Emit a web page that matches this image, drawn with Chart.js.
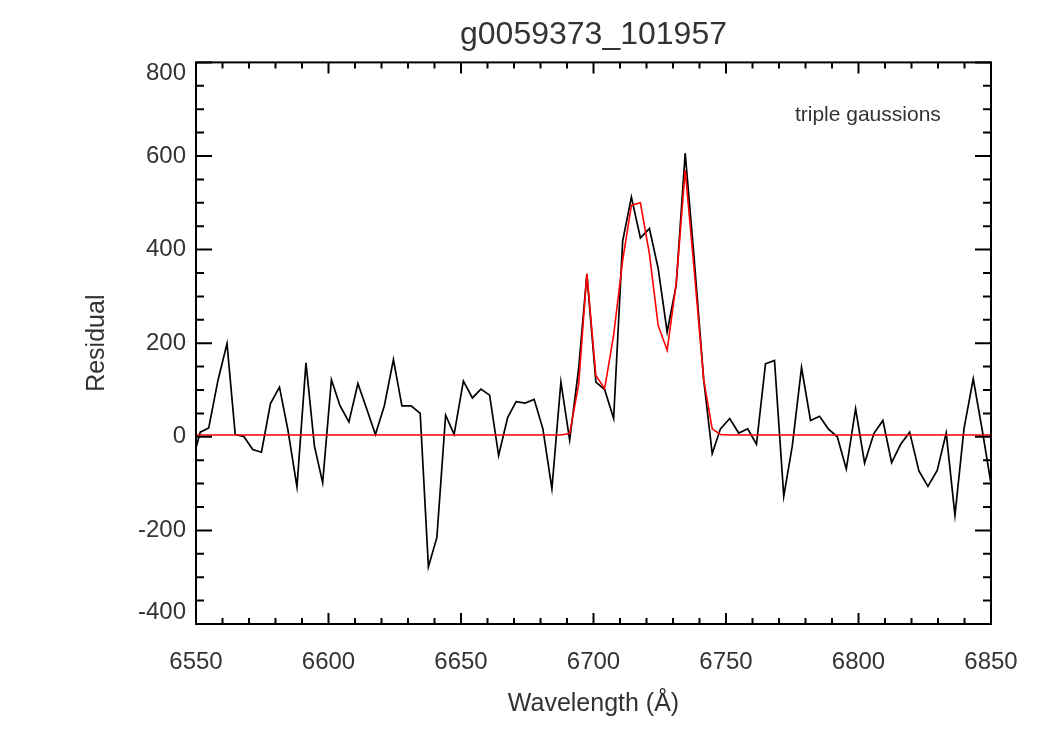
<!DOCTYPE html>
<html>
<head>
<meta charset="utf-8">
<script src="https://cdn.jsdelivr.net/npm/chart.js@4"></script>
<style>
  html, body { margin: 0; padding: 0; background: #fff; }
  canvas { display: block; }
</style>
</head>
<body>
<canvas id="grafica" width="1050" height="750"></canvas>
<script>
// Wavelength samples (Å)
const wavelengths = [
  6548.3, 6551.6, 6554.8, 6558.3, 6561.7, 6564.8, 6568.0, 6571.4, 6574.7, 6578.1,
  6581.5, 6584.7, 6588.1, 6591.5, 6594.7, 6597.8, 6601.1, 6604.3, 6607.7, 6611.1,
  6614.4, 6617.7, 6621.1, 6624.5, 6627.7, 6631.2, 6634.6, 6637.7, 6640.9, 6644.2,
  6647.4, 6650.9, 6654.3, 6657.5, 6660.8, 6664.2, 6667.6, 6670.8, 6674.2, 6677.6,
  6680.9, 6684.3, 6687.7, 6691.0, 6694.4, 6697.5, 6700.9, 6704.2, 6707.6, 6711.0,
  6714.3, 6717.7, 6721.1, 6724.4, 6727.8, 6731.2, 6734.6, 6738.0, 6741.6, 6744.8,
  6747.9, 6751.4, 6754.8, 6758.2, 6761.5, 6764.9, 6768.3, 6771.8, 6775.0, 6778.5,
  6781.9, 6785.3, 6788.6, 6792.0, 6795.4, 6798.9, 6802.3, 6805.8, 6809.2, 6812.5,
  6815.9, 6819.3, 6822.8, 6826.2, 6829.7, 6833.1, 6836.4, 6839.8, 6843.3, 6846.7,
  6850.0
];

// Observed residual (black)
const residual = [
  -60, 10, 19, 121, 199, 5, 1, -27, -33, 71,
  106, 14, -107, 158, -20, -98, 122, 67, 32, 114,
  60, 5, 67, 165, 66, 66, 50, -278, -215, 46,
  5, 119, 83, 102, 89, -40, 41, 75, 72, 80,
  17, -111, 117, -7, 146, 347, 117, 101, 39, 418,
  512, 425, 445, 360, 224, 324, 606, 380, 121, -36,
  17, 39, 8, 17, -16, 156, 163, -127, -20, 148,
  35, 44, 17, 0, -69, 60, -56, 7, 35, -55,
  -16, 10, -73, -106, -72, 8, -168, 17, 124, 14,
  -100
];

// Triple gaussian fit (red)
const fit = [
  4, 4, 4, 4, 4, 4, 4, 4, 4, 4,
  4, 4, 4, 4, 4, 4, 4, 4, 4, 4,
  4, 4, 4, 4, 4, 4, 4, 4, 4, 4,
  4, 4, 4, 4, 4, 4, 4, 4, 4, 4,
  4, 4, 4, 7, 112, 349, 131, 103, 217, 377,
  495, 500, 391, 238, 185, 327, 570, 356, 121, 17,
  5, 4, 4, 4, 4, 4, 4, 4, 4, 4,
  4, 4, 4, 4, 4, 4, 4, 4, 4, 4,
  4, 4, 4, 4, 4, 4, 4, 4, 4, 4,
  4
];

const xTicks = [6550, 6600, 6650, 6700, 6750, 6800, 6850];
const yTicks = [-400, -200, 0, 200, 400, 600, 800];

const fontFamily = '"Liberation Sans", Arial, Helvetica, sans-serif';
const textColor = '#333';

// Inward ticks on all four sides plus the frame, IDL style
const marcoIDL = {
  id: 'marcoIDL',
  afterDraw(chart) {
    const { ctx, chartArea: a, scales: { x, y } } = chart;
    ctx.save();
    ctx.strokeStyle = '#000';
    ctx.lineWidth = 2;
    ctx.strokeRect(a.left, a.top, a.right - a.left, a.bottom - a.top);

    // x ticks: minor every 10, major on labels
    for (let v = xTicks[0]; v <= xTicks[xTicks.length - 1]; v += 10) {
      const px = x.getPixelForValue(v);
      const len = xTicks.includes(v) ? 11 : 6;
      ctx.beginPath();
      ctx.moveTo(px, a.bottom); ctx.lineTo(px, a.bottom - len);
      ctx.moveTo(px, a.top); ctx.lineTo(px, a.top + len);
      ctx.stroke();
    }
    // y ticks: minor every 50, major on labels
    for (let v = yTicks[0]; v <= yTicks[yTicks.length - 1]; v += 50) {
      const py = y.getPixelForValue(v);
      const len = yTicks.includes(v) ? 16 : 8;
      ctx.beginPath();
      ctx.moveTo(a.left, py); ctx.lineTo(a.left + len, py);
      ctx.moveTo(a.right, py); ctx.lineTo(a.right - len, py);
      ctx.stroke();
    }

    // legend text
    ctx.fillStyle = textColor;
    ctx.font = '21px ' + fontFamily;
    ctx.textAlign = 'left';
    ctx.textBaseline = 'middle';
    ctx.fillText('triple gaussions', x.getPixelForValue(6776), y.getPixelForValue(687));
    ctx.restore();
  }
};

// IDL keeps the end labels of the y axis inside the frame
function etiquetaY(v) {
  if (v === yTicks[yTicks.length - 1]) return ['', String(v)];
  if (v === yTicks[0]) return [String(v), ''];
  return String(v);
}

const ctx = document.getElementById('grafica').getContext('2d');
new Chart(ctx, {
  type: 'line',
  data: {
    datasets: [
      {
        label: 'fit',
        data: wavelengths.map((w, i) => ({ x: w, y: fit[i] })),
        borderColor: '#ff0000',
        borderWidth: 1.6,
        pointRadius: 0,
        tension: 0,
        order: 0
      },
      {
        label: 'residual',
        data: wavelengths.map((w, i) => ({ x: w, y: residual[i] })),
        borderColor: '#000000',
        borderWidth: 1.7,
        pointRadius: 0,
        tension: 0,
        order: 1
      }
    ]
  },
  options: {
    responsive: false,
    animation: false,
    devicePixelRatio: 1,
    layout: { padding: { left: 0, right: 59, top: 0, bottom: 0 } },
    plugins: {
      legend: { display: false },
      tooltip: { enabled: false },
      title: {
        display: true,
        fullSize: false,
        text: 'g0059373_101957',
        color: textColor,
        font: { family: fontFamily, size: 32, weight: 'normal' },
        padding: { top: 16, bottom: 8 }
      }
    },
    scales: {
      x: {
        type: 'linear',
        min: 6550,
        max: 6850,
        afterBuildTicks: s => { s.ticks = xTicks.map(v => ({ value: v })); },
        afterFit: s => { s.height = 126; },
        grid: { display: false, drawTicks: false },
        border: { display: false },
        ticks: {
          autoSkip: false,
          maxRotation: 0,
          padding: 24,
          color: textColor,
          font: { family: fontFamily, size: 24 },
          callback: v => String(v)
        },
        title: {
          display: true,
          text: 'Wavelength (Å)',
          color: textColor,
          font: { family: fontFamily, size: 25 },
          padding: { top: 0, bottom: 31 }
        }
      },
      y: {
        type: 'linear',
        min: -400,
        max: 800,
        afterBuildTicks: s => { s.ticks = yTicks.map(v => ({ value: v })); },
        afterFit: s => { s.width = 196; },
        grid: { display: false, drawTicks: false },
        border: { display: false },
        ticks: {
          autoSkip: false,
          padding: 10,
          color: textColor,
          font: { family: fontFamily, size: 24, lineHeight: 0.95 },
          callback: etiquetaY
        },
        title: {
          display: true,
          text: 'Residual',
          color: textColor,
          font: { family: fontFamily, size: 25 },
          padding: { top: 82, bottom: 0 }
        }
      }
    }
  },
  plugins: [marcoIDL]
});
</script>
</body>
</html>
